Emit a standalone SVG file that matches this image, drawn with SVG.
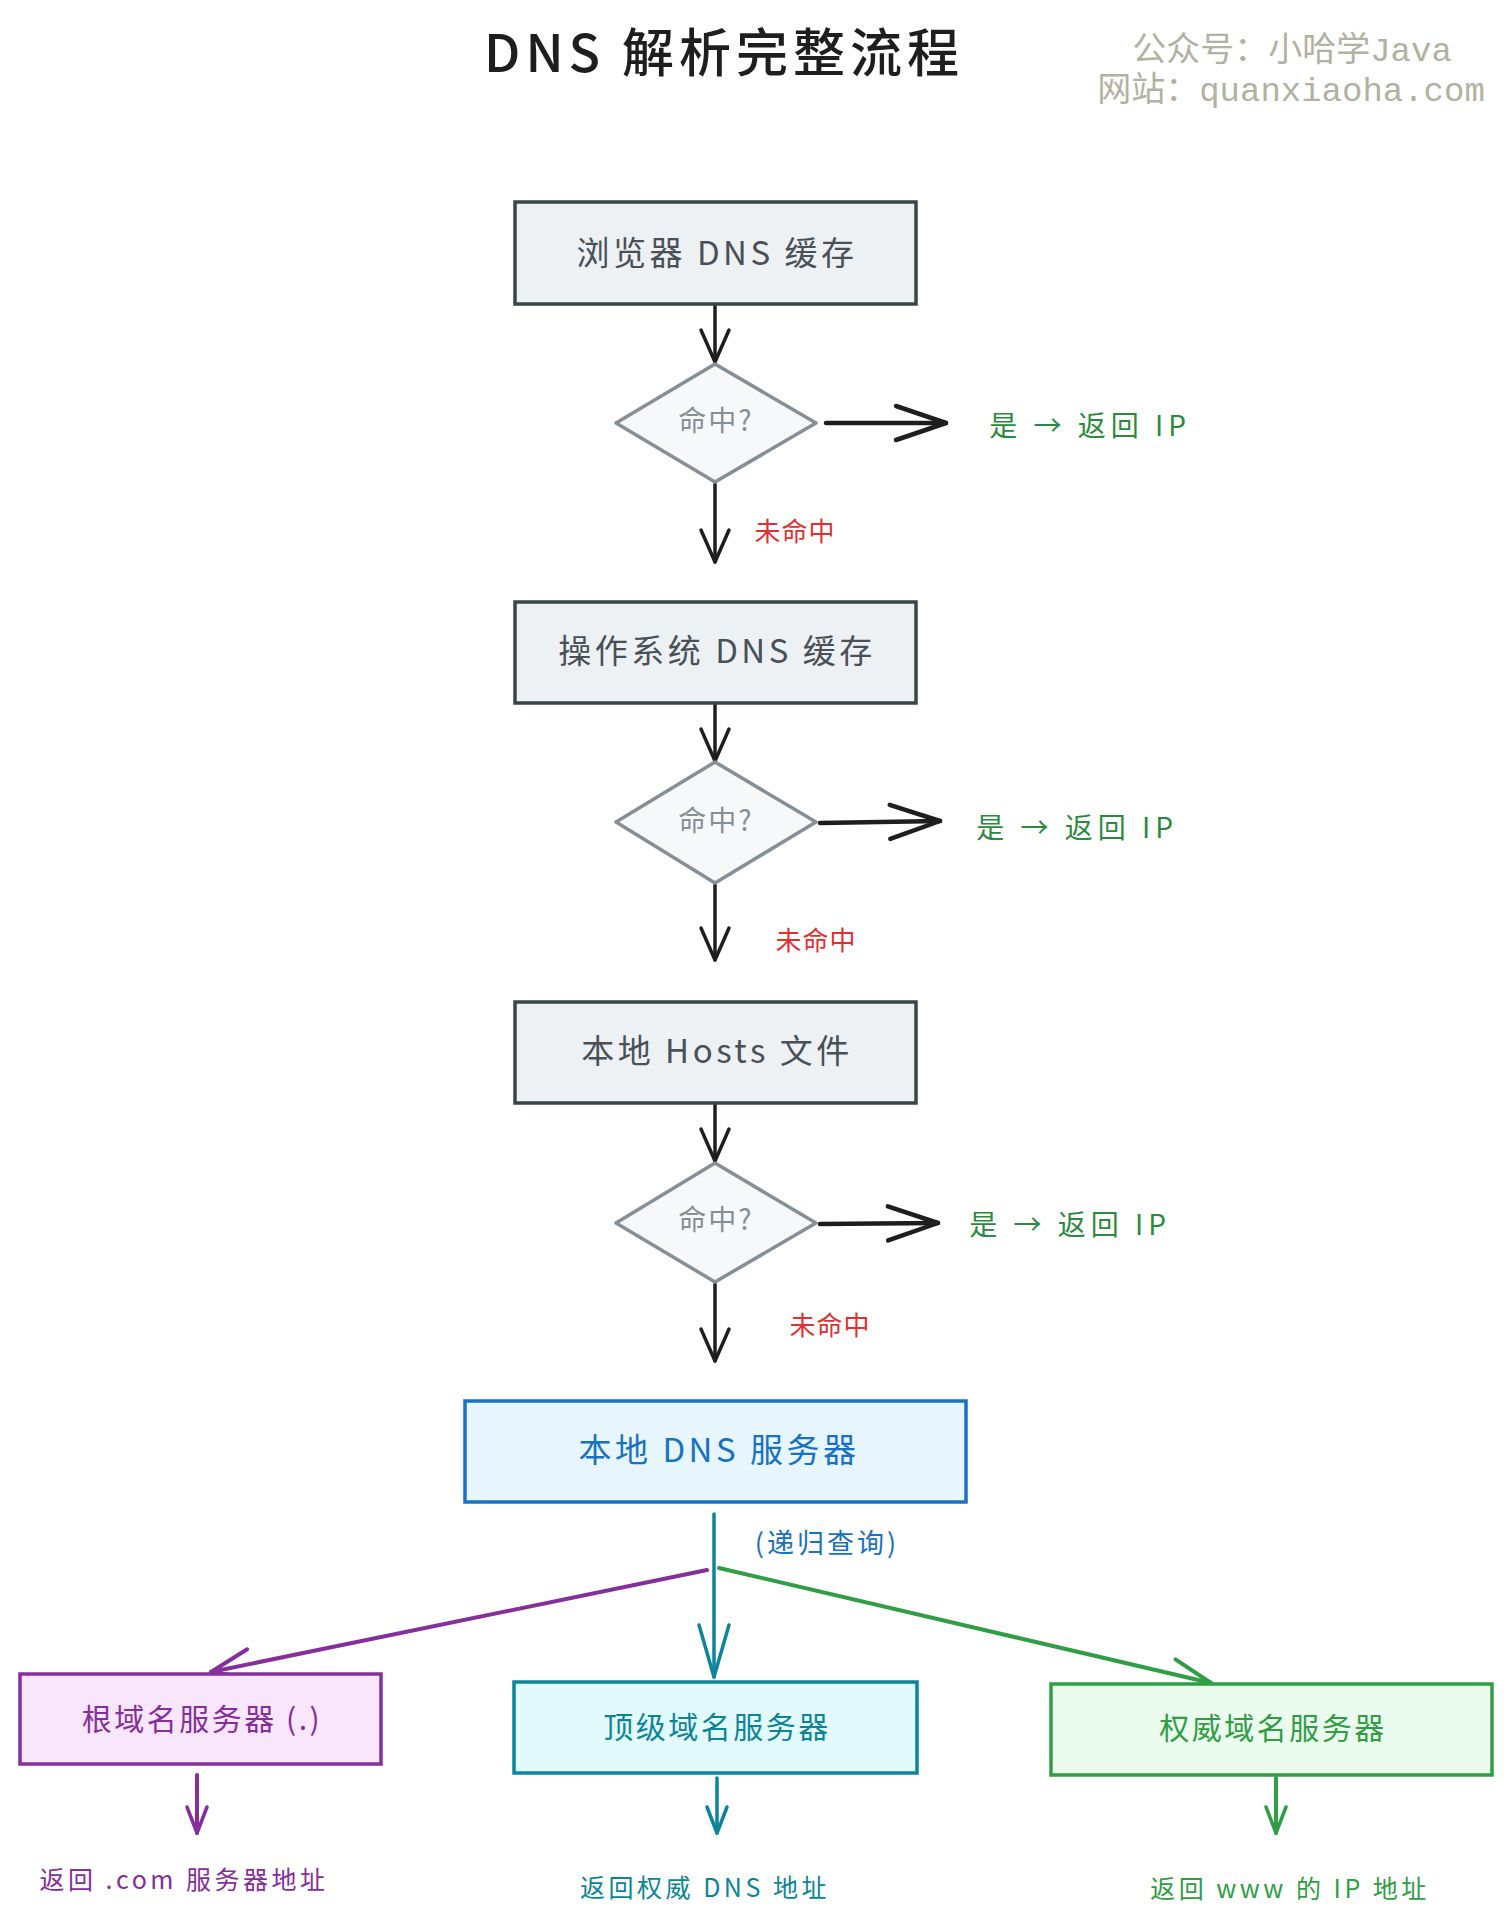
<svg xmlns="http://www.w3.org/2000/svg" width="1512" height="1928" viewBox="0 0 1512 1928">
<style>
  text { font-family: "Noto Sans CJK SC", "Noto Sans", sans-serif; dominant-baseline: central; text-anchor: middle; }
  .title { font-size: 52px; fill: #1e1e1e; font-weight: 500; letter-spacing: 5px; }
  .wm { font-family: "Liberation Mono", "Noto Sans CJK SC", monospace; font-size: 34px; fill: #b3b1a2; }
  .gbox { fill: #eef1f3; stroke: #3a4548; stroke-width: 3.5; }
  .gtext { font-size: 33px; fill: #495057; letter-spacing: 3.5px; }
  .dia { fill: #f6f8f9; stroke: #868e96; stroke-width: 3.5; stroke-linejoin: round; }
  .dtext { font-size: 28px; fill: #868e96; letter-spacing: 2px; }
  .yes { font-size: 28px; fill: #2b8a3e; letter-spacing: 5px; }
  .no { font-size: 26px; fill: #e03131; letter-spacing: 1px; }
  .ln { fill: none; stroke-linecap: round; }
  .dk { stroke: #1e1e1e; stroke-width: 3.5; }
  .dkb { stroke: #1e1e1e; stroke-width: 4.5; }
  .pu { stroke: #862e9c; stroke-width: 4; }
  .te { stroke: #0c8599; stroke-width: 3.5; }
  .gr { stroke: #2f9e44; stroke-width: 4; }
  .small { font-size: 25px; letter-spacing: 3.5px; }
  .srv { font-size: 30px; letter-spacing: 2.5px; }
</style>
<defs>
  <marker id="m-dk" markerUnits="userSpaceOnUse" viewBox="0 0 36 34" refX="34" refY="17" markerWidth="36" markerHeight="34" orient="auto" overflow="visible">
    <path d="M2,3 L34,17 L2,31" fill="none" stroke="#1e1e1e" stroke-width="3.5" stroke-linecap="round" stroke-linejoin="round"/>
  </marker>
  <marker id="m-dkb" markerUnits="userSpaceOnUse" viewBox="0 0 54 40" refX="52" refY="20" markerWidth="54" markerHeight="40" orient="auto" overflow="visible">
    <path d="M2,3 L52,20 L2,37" fill="none" stroke="#1e1e1e" stroke-width="4.5" stroke-linecap="round" stroke-linejoin="round"/>
  </marker>
  <marker id="m-pu" markerUnits="userSpaceOnUse" viewBox="0 0 44 36" refX="42" refY="18" markerWidth="44" markerHeight="36" orient="auto" overflow="visible">
    <path d="M2,3 L42,18 L2,33" fill="none" stroke="#862e9c" stroke-width="4" stroke-linecap="round" stroke-linejoin="round"/>
  </marker>
  <marker id="m-te" markerUnits="userSpaceOnUse" viewBox="0 0 56 40" refX="54" refY="20" markerWidth="56" markerHeight="40" orient="auto" overflow="visible">
    <path d="M2,5 L54,20 L2,35" fill="none" stroke="#0c8599" stroke-width="3.5" stroke-linecap="round" stroke-linejoin="round"/>
  </marker>
  <marker id="m-gr" markerUnits="userSpaceOnUse" viewBox="0 0 44 36" refX="42" refY="18" markerWidth="44" markerHeight="36" orient="auto" overflow="visible">
    <path d="M2,3 L42,18 L2,33" fill="none" stroke="#2f9e44" stroke-width="4" stroke-linecap="round" stroke-linejoin="round"/>
  </marker>
  <marker id="m-pus" markerUnits="userSpaceOnUse" viewBox="0 0 30 26" refX="28" refY="13" markerWidth="30" markerHeight="26" orient="auto" overflow="visible">
    <path d="M2,3 L28,13 L2,23" fill="none" stroke="#862e9c" stroke-width="3.5" stroke-linecap="round" stroke-linejoin="round"/>
  </marker>
  <marker id="m-tes" markerUnits="userSpaceOnUse" viewBox="0 0 30 26" refX="28" refY="13" markerWidth="30" markerHeight="26" orient="auto" overflow="visible">
    <path d="M2,3 L28,13 L2,23" fill="none" stroke="#0c8599" stroke-width="3.5" stroke-linecap="round" stroke-linejoin="round"/>
  </marker>
  <marker id="m-grs" markerUnits="userSpaceOnUse" viewBox="0 0 30 26" refX="28" refY="13" markerWidth="30" markerHeight="26" orient="auto" overflow="visible">
    <path d="M2,3 L28,13 L2,23" fill="none" stroke="#2f9e44" stroke-width="3.5" stroke-linecap="round" stroke-linejoin="round"/>
  </marker>
</defs>
<rect width="1512" height="1928" fill="#ffffff"/>

<g id="title">
  <text class="title" x="724" y="49">DNS 解析完整流程</text>
</g>
<g id="watermark">
  <text class="wm" x="1292" y="52">公众号：小哈学Java</text>
  <text class="wm" x="1291" y="92">网站：quanxiaoha.com</text>
</g>

<g id="connectors">
  <line class="ln dk" x1="715" y1="306" x2="715" y2="362" marker-end="url(#m-dk)"/>
  <line class="ln dkb" x1="826" y1="423" x2="946" y2="423" marker-end="url(#m-dkb)"/>
  <line class="ln dk" x1="715" y1="484" x2="715" y2="562" marker-end="url(#m-dk)"/>

  <line class="ln dk" x1="715" y1="705" x2="715" y2="761" marker-end="url(#m-dk)"/>
  <line class="ln dkb" x1="820" y1="823" x2="940" y2="821" marker-end="url(#m-dkb)"/>
  <line class="ln dk" x1="715" y1="885" x2="715" y2="960" marker-end="url(#m-dk)"/>

  <line class="ln dk" x1="715" y1="1105" x2="715" y2="1161" marker-end="url(#m-dk)"/>
  <line class="ln dkb" x1="820" y1="1224" x2="938" y2="1223" marker-end="url(#m-dkb)"/>
  <line class="ln dk" x1="715" y1="1284" x2="715" y2="1361" marker-end="url(#m-dk)"/>

  <line class="ln te" x1="714" y1="1514" x2="714" y2="1677" marker-end="url(#m-te)"/>
  <line class="ln pu" x1="707" y1="1570" x2="211" y2="1672" marker-end="url(#m-pu)"/>
  <line class="ln gr" x1="719" y1="1568" x2="1211" y2="1683" marker-end="url(#m-gr)"/>

  <line class="ln pu" x1="197" y1="1775" x2="197" y2="1833" stroke-width="3.5" marker-end="url(#m-pus)"/>
  <line class="ln te" x1="717" y1="1778" x2="717" y2="1833" marker-end="url(#m-tes)"/>
  <line class="ln gr" x1="1276" y1="1778" x2="1276" y2="1833" stroke-width="3.5" marker-end="url(#m-grs)"/>

  <text class="yes" x="1090" y="424">是 → 返回 IP</text>
  <text class="no" x="795" y="529">未命中</text>
  <text class="yes" x="1077" y="826">是 → 返回 IP</text>
  <text class="no" x="816" y="938">未命中</text>
  <text class="yes" x="1070" y="1223">是 → 返回 IP</text>
  <text class="no" x="830" y="1323">未命中</text>
  <text x="827" y="1541" font-size="27" fill="#1971c2" letter-spacing="3">(递归查询)</text>
</g>

<g id="browser-cache">
  <rect class="gbox" x="515" y="202" width="401" height="102"/>
  <text class="gtext" x="717" y="251">浏览器 DNS 缓存</text>
</g>
<g id="hit1">
  <polygon class="dia" points="715,364 816,423 715,482 616,423"/>
  <text class="dtext" x="716" y="419">命中?</text>
</g>

<g id="os-cache">
  <rect class="gbox" x="515" y="602" width="401" height="101"/>
  <text class="gtext" x="717" y="649">操作系统 DNS 缓存</text>
</g>
<g id="hit2">
  <polygon class="dia" points="715,762 816,822 715,883 616,822"/>
  <text class="dtext" x="716" y="819">命中?</text>
</g>

<g id="hosts">
  <rect class="gbox" x="515" y="1002" width="401" height="101"/>
  <text class="gtext" x="717" y="1049">本地 Hosts 文件</text>
</g>
<g id="hit3">
  <polygon class="dia" points="715,1163 816,1223 715,1282 616,1223"/>
  <text class="dtext" x="716" y="1218">命中?</text>
</g>

<g id="local-dns">
  <rect x="465" y="1401" width="501" height="101" fill="#e7f5ff" stroke="#1971c2" stroke-width="3.5"/>
  <text class="gtext" x="719" y="1448" style="fill:#1971c2">本地 DNS 服务器</text>
</g>

<g id="root-server">
  <rect x="20" y="1674" width="361" height="90" fill="#f8e6fc" stroke="#862e9c" stroke-width="3.5"/>
  <text class="srv" x="202" y="1717" fill="#862e9c">根域名服务器 (.)</text>
</g>
<g id="tld-server">
  <rect x="514" y="1682" width="403" height="91" fill="#e3fafc" stroke="#0c8599" stroke-width="3.5"/>
  <text class="srv" x="717" y="1725" fill="#0c8599" letter-spacing="1.5">顶级域名服务器</text>
</g>
<g id="auth-server">
  <rect x="1051" y="1684" width="441" height="91" fill="#ebfbee" stroke="#2f9e44" stroke-width="3.5"/>
  <text class="srv" x="1273" y="1726" fill="#2f9e44" letter-spacing="1.5">权威域名服务器</text>
</g>

<g id="results">
  <text class="small" x="184" y="1878" fill="#862e9c">返回 .com 服务器地址</text>
  <text class="small" x="705" y="1886" fill="#0c8599">返回权威 DNS 地址</text>
  <text class="small" x="1290" y="1887" fill="#2f9e44">返回 www 的 IP 地址</text>
</g>
</svg>
